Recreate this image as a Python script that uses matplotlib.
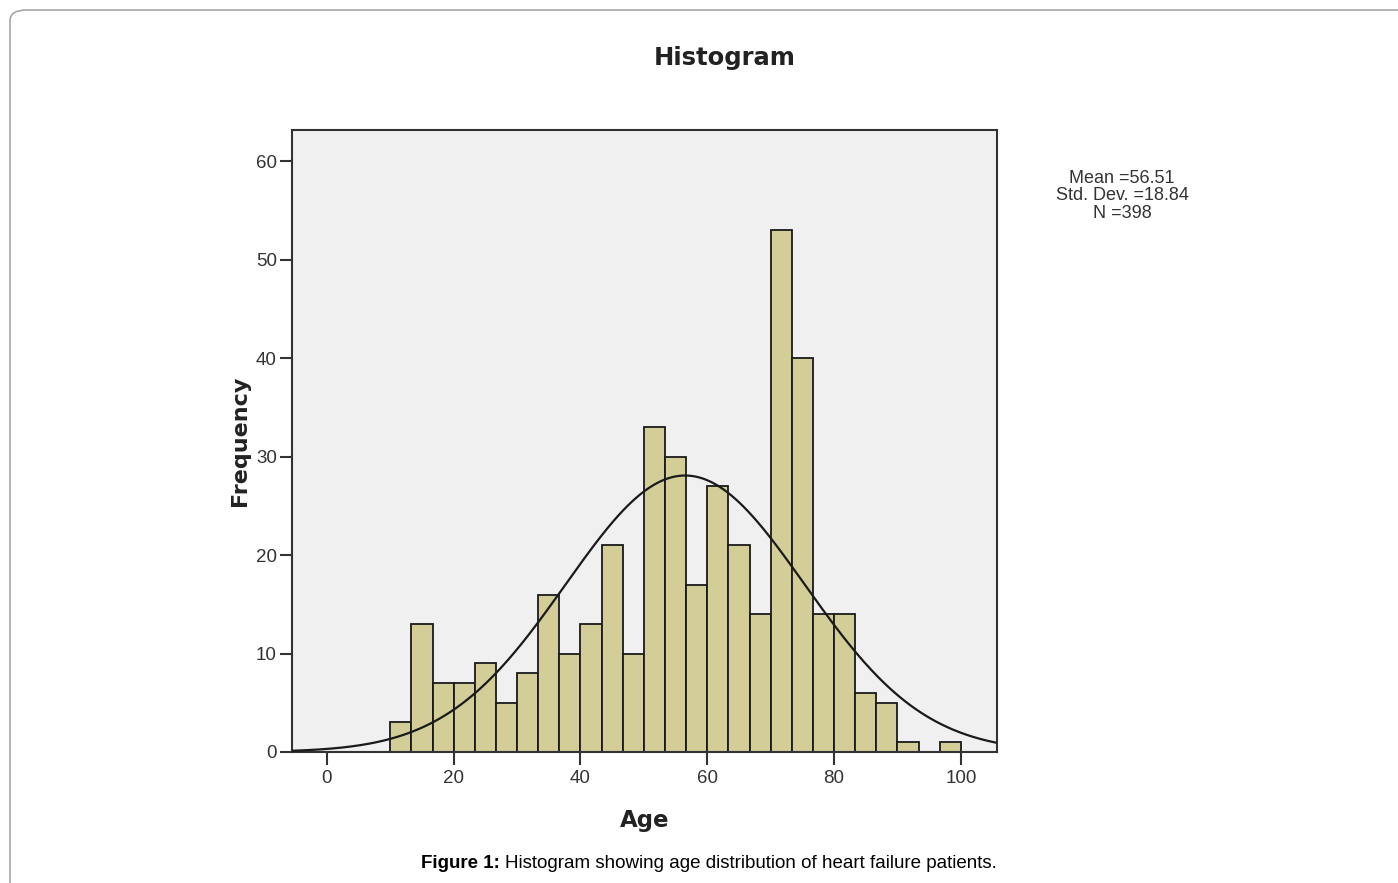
#%%
# SPSS-style age histogram with fitted normal curve
import numpy as np
import matplotlib.pyplot as plt
from matplotlib.patches import FancyBboxPatch

# %%
# bin edges run 10..100 in 27 equal bins, counts
bin_start = 10
bin_end = 100
counts = [3, 13, 7, 7, 9, 5, 8, 16, 10, 13, 21, 10, 33, 30, 17, 27, 21, 14,
          53, 40, 14, 14, 6, 5, 1, 0, 1]
age_mean = 56.51
age_sd = 18.84
n_total = 398
x_ticks = [0, 20, 40, 60, 80, 100]
y_ticks = [0, 10, 20, 30, 40, 50, 60]

# %%
plt.rcParams['font.family'] = ['Liberation Sans', 'DejaVu Sans']

fig = plt.figure(figsize=(13.98, 8.83), dpi=100)
W, H = 1398, 883

# light rounded frame round the whole figure
frame = FancyBboxPatch((10 / W, -0.05), 1.5, (H - 10) / H + 0.05,
                       boxstyle='round,pad=0,rounding_size=0.012',
                       transform=fig.transFigure, fc='none', ec='#a8a8a8',
                       lw=1.2, zorder=0)
fig.patches.append(frame)

ax = fig.add_axes([292 / W, 1 - 752 / H, (997 - 292) / W, (752 - 130) / H])
ax.set_facecolor('#f0f0f0')

edges = np.linspace(bin_start, bin_end, len(counts) + 1)
width = edges[1] - edges[0]
ax.bar(edges[:-1], counts, width=width, align='edge', color='#d3ce97',
       edgecolor='#1a1a1a', linewidth=1.3, zorder=2)

# normal curve scaled to counts
xs = np.linspace(-6, 106, 400)
ys = n_total * width * np.exp(-0.5 * ((xs - age_mean) / age_sd) ** 2) / (age_sd * np.sqrt(2 * np.pi))
ax.plot(xs, ys, color='#1a1a1a', lw=1.6, zorder=3)

ax.set_xlim(-5.5, 105.7)
ax.set_ylim(0, 63.2)
ax.set_xticks(x_ticks)
ax.set_yticks(y_ticks)
ax.tick_params(direction='out', length=9, width=1.5, color='#333333',
               labelsize=13.5, labelcolor='#333333', pad=2)
ax.tick_params(axis='x', pad=4)
for s in ax.spines.values():
    s.set_linewidth(1.5)
    s.set_color('#333333')

ax.set_xlabel('Age', fontsize=16.5, fontweight='bold', family='DejaVu Sans',
              labelpad=16, color='#222222')
ax.set_ylabel('Frequency', fontsize=16, fontweight='bold', family='DejaVu Sans',
              labelpad=4, color='#222222')

fig.text(725 / W, 1 - 58 / H, 'Histogram', ha='center', va='center',
         fontsize=17.5, fontweight='bold', family='DejaVu Sans', color='#222222')

fig.text(1122 / W, 1 - 196 / H,
         f'Mean ={age_mean}\nStd. Dev. ={age_sd}\nN ={n_total}',
         ha='center', va='center', fontsize=13, linespacing=1.05,
         color='#333333')

# caption: bold lead-in followed by plain text
cap1 = fig.text(421 / W, 1 - 863 / H, 'Figure 1:', ha='left', va='center',
                fontsize=13.5, fontweight='bold')
fig.canvas.draw()
bb = cap1.get_window_extent()
fig.text(bb.x1 / W + 5 / W, 1 - 863 / H,
         'Histogram showing age distribution of heart failure patients.',
         ha='left', va='center', fontsize=13.5)

fig.savefig('out.png', dpi=100)
